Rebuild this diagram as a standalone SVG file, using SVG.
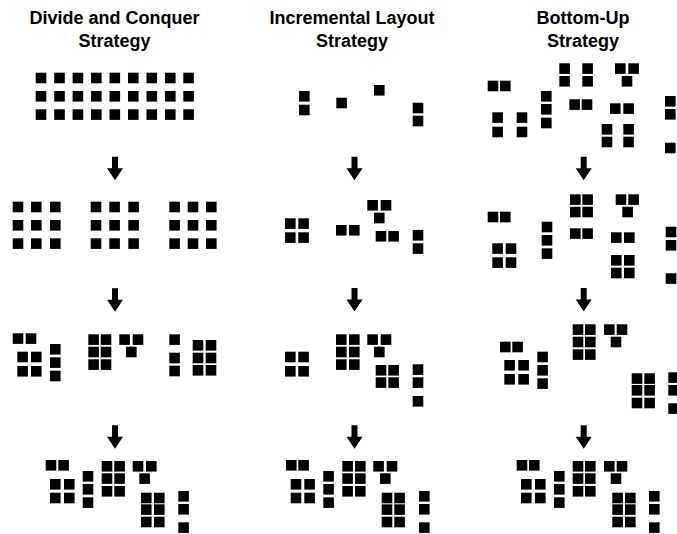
<svg xmlns="http://www.w3.org/2000/svg" xmlns:xlink="http://www.w3.org/1999/xlink" width="677" height="534" viewBox="0 0 677 534">
<style>
.t{font-family:"Liberation Sans",Arial,sans-serif;font-weight:bold;font-size:18px;fill:#000;text-anchor:middle}
</style>
<defs>
<rect id="q" width="10.6" height="10.6" fill="#000"/>
<path id="ar" d="M-3,0 H3 V11.5 H8 L0,23.5 L-8,11.5 H-3 Z" fill="#000"/>
</defs>
<rect width="677" height="534" fill="#fff"/>
<g id="titles">
<text class="t" x="114.5" y="24">Divide and Conquer</text>
<text class="t" x="114.5" y="47">Strategy</text>
<text class="t" x="352" y="24">Incremental Layout</text>
<text class="t" x="352" y="47">Strategy</text>
<text class="t" x="583" y="24">Bottom-Up</text>
<text class="t" x="583" y="47">Strategy</text>
</g>
<g id="connectors">
<use xlink:href="#ar" x="115" y="156.7"/>
<use xlink:href="#ar" x="115" y="288.3"/>
<use xlink:href="#ar" x="115" y="425.3"/>
<use xlink:href="#ar" x="354.5" y="156.7"/>
<use xlink:href="#ar" x="354.5" y="288"/>
<use xlink:href="#ar" x="354.5" y="425.3"/>
<use xlink:href="#ar" x="583.7" y="156.7"/>
<use xlink:href="#ar" x="583.7" y="288"/>
<use xlink:href="#ar" x="583.7" y="425.3"/>
</g>
<g id="dc-1">
<use xlink:href="#q" x="35.7" y="72.7"/><use xlink:href="#q" x="54.2" y="72.7"/><use xlink:href="#q" x="72.6" y="72.7"/><use xlink:href="#q" x="91" y="72.7"/><use xlink:href="#q" x="109.5" y="72.7"/><use xlink:href="#q" x="128" y="72.7"/><use xlink:href="#q" x="146.5" y="72.7"/><use xlink:href="#q" x="165" y="72.7"/><use xlink:href="#q" x="183.3" y="72.7"/>
<use xlink:href="#q" x="35.7" y="91"/><use xlink:href="#q" x="54.2" y="91"/><use xlink:href="#q" x="72.6" y="91"/><use xlink:href="#q" x="91" y="91"/><use xlink:href="#q" x="109.5" y="91"/><use xlink:href="#q" x="128" y="91"/><use xlink:href="#q" x="146.5" y="91"/><use xlink:href="#q" x="165" y="91"/><use xlink:href="#q" x="183.3" y="91"/>
<use xlink:href="#q" x="35.7" y="109.3"/><use xlink:href="#q" x="54.2" y="109.3"/><use xlink:href="#q" x="72.6" y="109.3"/><use xlink:href="#q" x="91" y="109.3"/><use xlink:href="#q" x="109.5" y="109.3"/><use xlink:href="#q" x="128" y="109.3"/><use xlink:href="#q" x="146.5" y="109.3"/><use xlink:href="#q" x="165" y="109.3"/><use xlink:href="#q" x="183.3" y="109.3"/>
</g>
<g id="dc-2">
<use xlink:href="#q" x="12.7" y="201.7"/><use xlink:href="#q" x="31" y="201.7"/><use xlink:href="#q" x="50" y="201.7"/>
<use xlink:href="#q" x="12.7" y="220"/><use xlink:href="#q" x="31" y="220"/><use xlink:href="#q" x="50" y="220"/>
<use xlink:href="#q" x="12.7" y="238.3"/><use xlink:href="#q" x="31" y="238.3"/><use xlink:href="#q" x="50" y="238.3"/>
<use xlink:href="#q" x="90.7" y="201.7"/><use xlink:href="#q" x="109.3" y="201.7"/><use xlink:href="#q" x="128.3" y="201.7"/>
<use xlink:href="#q" x="90.7" y="220"/><use xlink:href="#q" x="109.3" y="220"/><use xlink:href="#q" x="128.3" y="220"/>
<use xlink:href="#q" x="90.7" y="238.3"/><use xlink:href="#q" x="109.3" y="238.3"/><use xlink:href="#q" x="128.3" y="238.3"/>
<use xlink:href="#q" x="169.3" y="201.7"/><use xlink:href="#q" x="187.7" y="201.7"/><use xlink:href="#q" x="206" y="201.7"/>
<use xlink:href="#q" x="169.3" y="220"/><use xlink:href="#q" x="187.7" y="220"/><use xlink:href="#q" x="206" y="220"/>
<use xlink:href="#q" x="169.3" y="238.3"/><use xlink:href="#q" x="187.7" y="238.3"/><use xlink:href="#q" x="206" y="238.3"/>
</g>
<g id="dc-3">
<use xlink:href="#q" x="12.7" y="333.3"/><use xlink:href="#q" x="25.7" y="333.3"/>
<use xlink:href="#q" x="17.3" y="351.7"/><use xlink:href="#q" x="31" y="351.7"/><use xlink:href="#q" x="17.3" y="366"/><use xlink:href="#q" x="31" y="366"/>
<use xlink:href="#q" x="50" y="344"/><use xlink:href="#q" x="50" y="357.3"/><use xlink:href="#q" x="50" y="370.7"/>
<use xlink:href="#q" x="88.3" y="334.3"/><use xlink:href="#q" x="100.7" y="334.3"/><use xlink:href="#q" x="88.3" y="346.7"/><use xlink:href="#q" x="100.7" y="346.7"/><use xlink:href="#q" x="88.3" y="359.3"/><use xlink:href="#q" x="100.7" y="359.3"/>
<use xlink:href="#q" x="119.3" y="334.3"/><use xlink:href="#q" x="132.7" y="334.3"/><use xlink:href="#q" x="126" y="346.7"/>
<use xlink:href="#q" x="169.3" y="334.3"/><use xlink:href="#q" x="169.3" y="352.7"/><use xlink:href="#q" x="169.3" y="365.7"/>
<use xlink:href="#q" x="192.7" y="340"/><use xlink:href="#q" x="205.7" y="340"/><use xlink:href="#q" x="192.7" y="352.7"/><use xlink:href="#q" x="205.7" y="352.7"/><use xlink:href="#q" x="192.7" y="365"/><use xlink:href="#q" x="205.7" y="365"/>
</g>
<g id="dc-4">
<use xlink:href="#q" x="45.7" y="460"/><use xlink:href="#q" x="58.3" y="460"/>
<use xlink:href="#q" x="50" y="479"/><use xlink:href="#q" x="64" y="479"/><use xlink:href="#q" x="50" y="492.7"/><use xlink:href="#q" x="64" y="492.7"/>
<use xlink:href="#q" x="82.7" y="471"/><use xlink:href="#q" x="82.7" y="484"/><use xlink:href="#q" x="82.7" y="497.3"/>
<use xlink:href="#q" x="101.7" y="461"/><use xlink:href="#q" x="114.3" y="461"/><use xlink:href="#q" x="101.7" y="473.3"/><use xlink:href="#q" x="114.3" y="473.3"/><use xlink:href="#q" x="101.7" y="486"/><use xlink:href="#q" x="114.3" y="486"/>
<use xlink:href="#q" x="132.7" y="461"/><use xlink:href="#q" x="146" y="461"/><use xlink:href="#q" x="139.3" y="473.3"/>
<use xlink:href="#q" x="141" y="492.7"/><use xlink:href="#q" x="154" y="492.7"/><use xlink:href="#q" x="141" y="504.3"/><use xlink:href="#q" x="154" y="504.3"/><use xlink:href="#q" x="141" y="516.7"/><use xlink:href="#q" x="154" y="516.7"/>
<use xlink:href="#q" x="178.3" y="491"/><use xlink:href="#q" x="178.3" y="504"/><use xlink:href="#q" x="178.3" y="522.3"/>
</g>
<g id="inc-1">
<use xlink:href="#q" x="299" y="91"/><use xlink:href="#q" x="299" y="104.7"/>
<use xlink:href="#q" x="336.3" y="97.7"/>
<use xlink:href="#q" x="374" y="85"/>
<use xlink:href="#q" x="412.7" y="102.7"/><use xlink:href="#q" x="412.7" y="115.7"/>
</g>
<g id="inc-2">
<use xlink:href="#q" x="285" y="218.3"/><use xlink:href="#q" x="298.3" y="218.3"/><use xlink:href="#q" x="285" y="232.3"/><use xlink:href="#q" x="298.3" y="232.3"/>
<use xlink:href="#q" x="336" y="225"/><use xlink:href="#q" x="349" y="225"/>
<use xlink:href="#q" x="367.3" y="200"/><use xlink:href="#q" x="380.7" y="200"/><use xlink:href="#q" x="374" y="212.7"/>
<use xlink:href="#q" x="375.7" y="231"/><use xlink:href="#q" x="388.3" y="231"/>
<use xlink:href="#q" x="412.7" y="230"/><use xlink:href="#q" x="412.7" y="243.3"/>
</g>
<g id="inc-3">
<use xlink:href="#q" x="285" y="351.7"/><use xlink:href="#q" x="298.3" y="351.7"/><use xlink:href="#q" x="285" y="366"/><use xlink:href="#q" x="298.3" y="366"/>
<use xlink:href="#q" x="336" y="334.3"/><use xlink:href="#q" x="349" y="334.3"/><use xlink:href="#q" x="336" y="346.7"/><use xlink:href="#q" x="349" y="346.7"/><use xlink:href="#q" x="336" y="359.3"/><use xlink:href="#q" x="349" y="359.3"/>
<use xlink:href="#q" x="367.3" y="334.3"/><use xlink:href="#q" x="380.7" y="334.3"/><use xlink:href="#q" x="374" y="346.7"/>
<use xlink:href="#q" x="375.7" y="365"/><use xlink:href="#q" x="388.3" y="365"/><use xlink:href="#q" x="375.7" y="377.3"/><use xlink:href="#q" x="388.3" y="377.3"/>
<use xlink:href="#q" x="412.7" y="364.3"/><use xlink:href="#q" x="412.7" y="377.3"/><use xlink:href="#q" x="412.7" y="396"/>
</g>
<g id="inc-4">
<use xlink:href="#q" x="286" y="460"/><use xlink:href="#q" x="298.3" y="460"/>
<use xlink:href="#q" x="290.7" y="479"/><use xlink:href="#q" x="304.3" y="479"/><use xlink:href="#q" x="290.7" y="492.7"/><use xlink:href="#q" x="304.3" y="492.7"/>
<use xlink:href="#q" x="323.3" y="471"/><use xlink:href="#q" x="323.3" y="484"/><use xlink:href="#q" x="323.3" y="497.3"/>
<use xlink:href="#q" x="342.3" y="461"/><use xlink:href="#q" x="355" y="461"/><use xlink:href="#q" x="342.3" y="473.3"/><use xlink:href="#q" x="355" y="473.3"/><use xlink:href="#q" x="342.3" y="486"/><use xlink:href="#q" x="355" y="486"/>
<use xlink:href="#q" x="373.3" y="461"/><use xlink:href="#q" x="386.7" y="461"/><use xlink:href="#q" x="380" y="473.3"/>
<use xlink:href="#q" x="381.7" y="492.7"/><use xlink:href="#q" x="394.3" y="492.7"/><use xlink:href="#q" x="381.7" y="504.3"/><use xlink:href="#q" x="394.3" y="504.3"/><use xlink:href="#q" x="381.7" y="516.7"/><use xlink:href="#q" x="394.3" y="516.7"/>
<use xlink:href="#q" x="419" y="491"/><use xlink:href="#q" x="419" y="504"/><use xlink:href="#q" x="419" y="522.3"/>
</g>
<g id="bu-1">
<use xlink:href="#q" x="487.7" y="80.7"/><use xlink:href="#q" x="500" y="80.7"/>
<use xlink:href="#q" x="492.3" y="112.3"/><use xlink:href="#q" x="492.3" y="126.7"/>
<use xlink:href="#q" x="516.7" y="112.3"/><use xlink:href="#q" x="516.7" y="126.7"/>
<use xlink:href="#q" x="541" y="91"/><use xlink:href="#q" x="541" y="104"/><use xlink:href="#q" x="541" y="117.7"/>
<use xlink:href="#q" x="559.3" y="63.3"/><use xlink:href="#q" x="559.3" y="76"/>
<use xlink:href="#q" x="582.3" y="63.3"/><use xlink:href="#q" x="582.3" y="76"/>
<use xlink:href="#q" x="569.3" y="99.3"/><use xlink:href="#q" x="581.7" y="99.3"/>
<use xlink:href="#q" x="615" y="63.3"/><use xlink:href="#q" x="628.3" y="63.3"/><use xlink:href="#q" x="621.7" y="76"/>
<use xlink:href="#q" x="610" y="103.3"/><use xlink:href="#q" x="623.3" y="103.3"/>
<use xlink:href="#q" x="601.7" y="124"/><use xlink:href="#q" x="601.7" y="136.7"/><use xlink:href="#q" x="623.3" y="124"/><use xlink:href="#q" x="623.3" y="136.7"/>
<use xlink:href="#q" x="665" y="96"/><use xlink:href="#q" x="665" y="109"/><use xlink:href="#q" x="665" y="142.7"/>
</g>
<g id="bu-2">
<use xlink:href="#q" x="487.7" y="211.7"/><use xlink:href="#q" x="500" y="211.7"/>
<use xlink:href="#q" x="492.3" y="243.3"/><use xlink:href="#q" x="505.7" y="243.3"/><use xlink:href="#q" x="492.3" y="257.3"/><use xlink:href="#q" x="505.7" y="257.3"/>
<use xlink:href="#q" x="541.7" y="221.7"/><use xlink:href="#q" x="541.7" y="235"/><use xlink:href="#q" x="541.7" y="248.3"/>
<use xlink:href="#q" x="570" y="194.3"/><use xlink:href="#q" x="582.3" y="194.3"/><use xlink:href="#q" x="570" y="206.7"/><use xlink:href="#q" x="582.3" y="206.7"/>
<use xlink:href="#q" x="570" y="228.3"/><use xlink:href="#q" x="582.3" y="228.3"/>
<use xlink:href="#q" x="615.7" y="194.3"/><use xlink:href="#q" x="628.3" y="194.3"/><use xlink:href="#q" x="622.3" y="206.7"/>
<use xlink:href="#q" x="611" y="232.3"/><use xlink:href="#q" x="624" y="232.3"/>
<use xlink:href="#q" x="611" y="255"/><use xlink:href="#q" x="624" y="255"/><use xlink:href="#q" x="611" y="267.7"/><use xlink:href="#q" x="624" y="267.7"/>
<use xlink:href="#q" x="665.7" y="226.7"/><use xlink:href="#q" x="665.7" y="240"/><use xlink:href="#q" x="665.7" y="273.3"/>
</g>
<g id="bu-3">
<use xlink:href="#q" x="500" y="341.7"/><use xlink:href="#q" x="512.3" y="341.7"/>
<use xlink:href="#q" x="504.3" y="360"/><use xlink:href="#q" x="518.3" y="360"/><use xlink:href="#q" x="504.3" y="374"/><use xlink:href="#q" x="518.3" y="374"/>
<use xlink:href="#q" x="537.3" y="351.7"/><use xlink:href="#q" x="537.3" y="365"/><use xlink:href="#q" x="537.3" y="378.3"/>
<use xlink:href="#q" x="572.7" y="324.3"/><use xlink:href="#q" x="585" y="324.3"/><use xlink:href="#q" x="572.7" y="336.7"/><use xlink:href="#q" x="585" y="336.7"/><use xlink:href="#q" x="572.7" y="349.3"/><use xlink:href="#q" x="585" y="349.3"/>
<use xlink:href="#q" x="604" y="324.3"/><use xlink:href="#q" x="616.7" y="324.3"/><use xlink:href="#q" x="610.7" y="336.7"/>
<use xlink:href="#q" x="631.7" y="373.3"/><use xlink:href="#q" x="644.3" y="373.3"/><use xlink:href="#q" x="631.7" y="385"/><use xlink:href="#q" x="644.3" y="385"/><use xlink:href="#q" x="631.7" y="397.7"/><use xlink:href="#q" x="644.3" y="397.7"/>
<use xlink:href="#q" x="668.3" y="372.3"/><use xlink:href="#q" x="668.3" y="385"/><use xlink:href="#q" x="668.3" y="403.3"/>
</g>
<g id="bu-4">
<use xlink:href="#q" x="516.7" y="460"/><use xlink:href="#q" x="529" y="460"/>
<use xlink:href="#q" x="521" y="479"/><use xlink:href="#q" x="535" y="479"/><use xlink:href="#q" x="521" y="492.7"/><use xlink:href="#q" x="535" y="492.7"/>
<use xlink:href="#q" x="554" y="471"/><use xlink:href="#q" x="554" y="484"/><use xlink:href="#q" x="554" y="497.3"/>
<use xlink:href="#q" x="572.7" y="461"/><use xlink:href="#q" x="585" y="461"/><use xlink:href="#q" x="572.7" y="473.3"/><use xlink:href="#q" x="585" y="473.3"/><use xlink:href="#q" x="572.7" y="486"/><use xlink:href="#q" x="585" y="486"/>
<use xlink:href="#q" x="604" y="461"/><use xlink:href="#q" x="616.7" y="461"/><use xlink:href="#q" x="610.7" y="473.3"/>
<use xlink:href="#q" x="612.3" y="492.7"/><use xlink:href="#q" x="625" y="492.7"/><use xlink:href="#q" x="612.3" y="504.3"/><use xlink:href="#q" x="625" y="504.3"/><use xlink:href="#q" x="612.3" y="516.7"/><use xlink:href="#q" x="625" y="516.7"/>
<use xlink:href="#q" x="649" y="491"/><use xlink:href="#q" x="649" y="504"/><use xlink:href="#q" x="649" y="522.3"/>
</g>
</svg>
